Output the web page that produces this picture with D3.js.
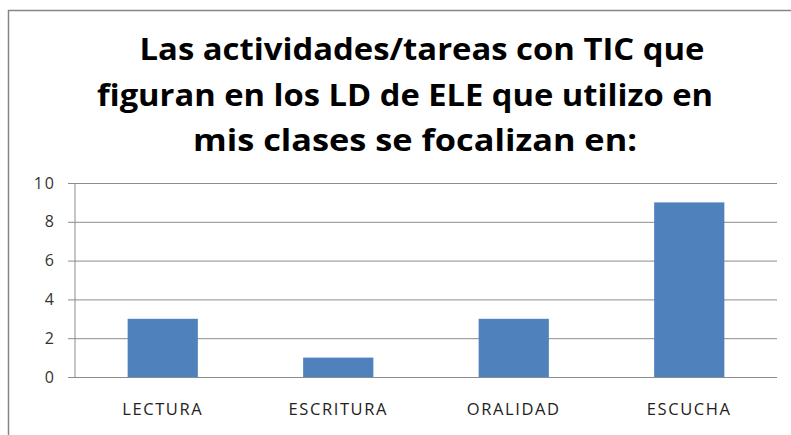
<!DOCTYPE html>
<html>
<head>
<meta charset="utf-8">
<script src="https://cdn.jsdelivr.net/npm/d3@7"></script>
<style>
  body { margin: 0; background: white; }
  text { font-family: "Open Sans", sans-serif; }
</style>
</head>
<body>
<script>
// chart data
var categories = ["LECTURA", "ESCRITURA", "ORALIDAD", "ESCUCHA"]
var values = [3, 1, 3, 9]
var yTicks = [0, 2, 4, 6, 8, 10]
var titleLines = [
	"Las actividades/tareas con TIC que",
	"figuran en los LD de ELE que utilizo en",
	"mis clases se focalizan en:"
]

var width = 791, height = 435

var svg = d3.select("body").append("svg")
	.attr("width", width)
	.attr("height", height)

// outer chart border (right and bottom fall outside the picture)
svg.append("rect")
	.attr("x", 8.5).attr("y", 10.5)
	.attr("width", 800).attr("height", 440)
	.attr("fill", "white")
	.attr("stroke", "#868686")
	.attr("stroke-width", 1.5)

// title, each line fitted to the width seen in the picture
var titleX = [422, 405, 415]
var titleY = [60, 106, 151]
var titleW = [565, 616, 444]
titleLines.forEach(function(line, i) {
	svg.append("text")
		.attr("x", titleX[i])
		.attr("y", titleY[i])
		.attr("text-anchor", "middle")
		.style("font-size", "31px")
		.attr("font-weight", "bold")
		.attr("fill", "#000")
		.attr("textLength", titleW[i])
		.attr("lengthAdjust", "spacingAndGlyphs")
		.text(line)
})

var plot = { left: 75, right: 777, top: 183, bottom: 377 }

var x = d3.scaleBand()
	.domain(categories)
	.range([plot.left, plot.right])
	.paddingInner(0.6)
	.paddingOuter(0.3)

var y = d3.scaleLinear()
	.domain([0, 10])
	.range([plot.bottom, plot.top])

// gridlines + y axis
var yAxis = d3.axisLeft(y)
	.tickValues(yTicks)
	.tickSize(-(plot.right - plot.left))
	.tickPadding(14)

var gy = svg.append("g")
	.attr("transform", "translate(" + plot.left + ",0)")
	.call(yAxis)
gy.select(".domain").remove()
gy.selectAll(".tick line")
	.attr("stroke", "#8c8c8c")
	.attr("x1", -7)
gy.selectAll(".tick text")
	.style("font-size", "16px")
	.style("letter-spacing", "2px")
	.style("font-family", "Open Sans, sans-serif")
	.attr("fill", "#333")
	.attr("dx", -5)

// vertical axis line
svg.append("line")
	.attr("x1", plot.left).attr("x2", plot.left)
	.attr("y1", plot.top).attr("y2", plot.bottom)
	.attr("stroke", "#8c8c8c")

// bars
svg.selectAll(".bar")
	.data(values)
	.enter().append("rect")
	.attr("class", "bar")
	.attr("x", function(d, i) { return x(categories[i]) })
	.attr("y", function(d) { return y(d) })
	.attr("width", x.bandwidth())
	.attr("height", function(d) { return y(0) - y(d) })
	.attr("fill", "#4f81bd")

// category labels
var xAxis = d3.axisBottom(x).tickSize(0).tickPadding(26)
var gx = svg.append("g")
	.attr("transform", "translate(0," + plot.bottom + ")")
	.call(xAxis)
gx.select(".domain").remove()
gx.selectAll(".tick text")
	.style("font-size", "16.5px")
	.style("letter-spacing", "1.6px")
	.style("font-family", "Open Sans, sans-serif")
	.attr("fill", "#222")
</script>
</body>
</html>
